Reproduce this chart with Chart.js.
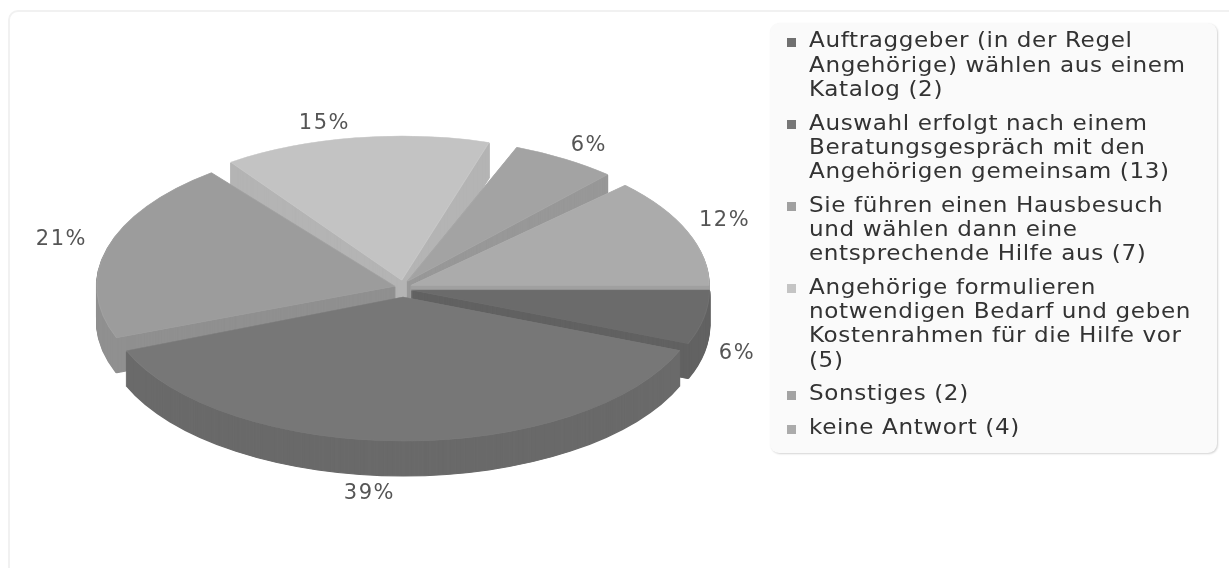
<!DOCTYPE html>
<html lang="de">
<head>
<meta charset="utf-8">
<title>Auswahl der Hilfe</title>
<script src="https://cdn.jsdelivr.net/npm/chart.js@4/dist/chart.umd.min.js"></script>
<style>
  html, body { margin: 0; width: 1229px; height: 568px; overflow: hidden; background: #fff; }
  #frame {
    position: absolute; left: 8px; top: 10px; width: 1290px; height: 640px;
    border: 2px solid #f1f1f1; border-radius: 10px; box-sizing: border-box;
  }
  #myChart { position: absolute; left: 0; top: 0; filter: blur(0.45px); }
  #legend {
    position: absolute; left: 770px; top: 23px; width: 447px; height: 430px;
    box-sizing: border-box; margin: 0; padding: 5.3px 0 0 39px; list-style: none;
    background: #fafafa; border-radius: 9px; box-shadow: 1px 1px 2px #d4d4d4;
    font: 21px "DejaVu Sans", sans-serif; line-height: 24.2px; letter-spacing: 0.55px; color: #333;
  }
  #legend li { position: relative; margin-bottom: 9.6px; }
  #legend span {
    display: block; white-space: pre; transform: scaleX(1.1); transform-origin: left top;
    filter: blur(0.35px);
  }
  #legend i { position: absolute; left: -22px; top: 9.5px; width: 9px; height: 9px; filter: blur(0.5px); }
</style>
</head>
<body>
<div id="frame"></div>
<canvas id="myChart" width="1229" height="568"></canvas>
<ul id="legend"></ul>
<script>
const categories = [
  'Auftraggeber (in der Regel\nAngehörige) wählen aus einem\nKatalog (2)',
  'Auswahl erfolgt nach einem\nBeratungsgespräch mit den\nAngehörigen gemeinsam (13)',
  'Sie führen einen Hausbesuch\nund wählen dann eine\nentsprechende Hilfe aus (7)',
  'Angehörige formulieren\nnotwendigen Bedarf und geben\nKostenrahmen für die Hilfe vor\n(5)',
  'Sonstiges (2)',
  'keine Antwort (4)'
];
const antworten = [2, 13, 7, 5, 2, 4];
const farben = ['#6b6b6b', '#777777', '#9c9c9c', '#c3c3c3', '#a3a3a3', '#ababab'];
const seiten = ['#626262', '#6a6a6a', '#909090', '#b4b4b4', '#989898', '#a0a0a0'];
const kanten = ['#717171', '#7d7d7d', '#a2a2a2', '#c8c8c8', '#a8a8a8', '#b0b0b0'];
const legendFarben = ['#707070', '#777777', '#a0a0a0', '#c4c4c4', '#a3a3a3', '#ababab'];

// Abstand der Prozentzahl vom Rand des Stuecks (px)
const labelVersatz = [[33, 36], [-19, 52.5], [-57, 7.5], [-64, -13], [8, -18.5], [37, -11.5]];
// Perspektive: Start- und Endwinkel werden beim Zeichnen leicht verschoben (Grad)
const perspektive = [[0, 0], [0, -5.6], [-4.6, -8], [-5, -7.5], [-3, -4.2], [-0.4, 0]];

// "3D" Darstellung
const mitte = { x: 403, y: 288.5 };
const radiusX = 298;
const radiusY = 144;
const explode = 8.5;
const tiefe = 35;
const reihenfolge = [3, 4, 5, 2, 0, 1]; // von hinten nach vorne

const gesamt = antworten.reduce((total, valor) => total + valor, 0);

function zeichneStueck(ctx, arc, i, dy, sx, sy, farbe, kante, rand) {
  const { startAngle, endAngle, circumference, options } = arc;
  arc.startAngle = startAngle + perspektive[i][0] * Math.PI / 180;
  arc.endAngle = endAngle + perspektive[i][1] * Math.PI / 180;
  arc.circumference = arc.endAngle - arc.startAngle;
  arc.options = Object.assign({}, options, { backgroundColor: farbe, borderColor: kante, borderWidth: rand });
  const winkel = (arc.startAngle + arc.endAngle) / 2;
  ctx.save();
  ctx.translate(mitte.x + Math.cos(winkel) * explode, mitte.y + Math.sin(winkel) * explode + dy);
  ctx.scale(sx, sy);
  ctx.translate(-arc.x, -arc.y);
  arc.draw(ctx);
  ctx.restore();
  arc.startAngle = startAngle;
  arc.endAngle = endAngle;
  arc.circumference = circumference;
  arc.options = options;
}

const pie3d = {
  id: 'pie3d',
  beforeDatasetsDraw(chart) {
    const ctx = chart.ctx;
    const arcs = chart.getDatasetMeta(0).data;
    const sx = radiusX / arcs[0].outerRadius;
    const sy = radiusY / arcs[0].outerRadius;
    reihenfolge.forEach(i => {
      for (let dy = tiefe; dy > 0; dy--) {
        zeichneStueck(ctx, arcs[i], i, dy, sx, sy, seiten[i], seiten[i], 2);
      }
      zeichneStueck(ctx, arcs[i], i, 0, sx, sy, farben[i], kanten[i], 1);
    });
    return false;
  },
  afterDraw(chart) {
    const ctx = chart.ctx;
    ctx.save();
    ctx.font = '21px "DejaVu Sans", sans-serif';
    ctx.letterSpacing = '1.5px';
    ctx.fillStyle = '#555555';
    ctx.textAlign = 'center';
    ctx.textBaseline = 'middle';
    chart.getDatasetMeta(0).data.forEach((arc, i) => {
      const winkel = (arc.startAngle + arc.endAngle) / 2;
      const x = mitte.x + Math.cos(winkel) * (explode + radiusX) + labelVersatz[i][0];
      const y = mitte.y + Math.sin(winkel) * explode + Math.sin(winkel) * radiusY + labelVersatz[i][1];
      ctx.fillText(Math.round(antworten[i] / gesamt * 100) + '%', x, y);
    });
    ctx.restore();
  }
};

new Chart(document.getElementById('myChart'), {
  type: 'pie',
  data: {
    labels: categories,
    datasets: [{
      data: antworten,
      backgroundColor: farben,
      borderWidth: 1
    }]
  },
  options: {
    responsive: false,
    animation: false,
    rotation: 90,
    plugins: {
      legend: { display: false },
      tooltip: { enabled: false }
    }
  },
  plugins: [pie3d]
});

const legend = document.getElementById('legend');
categories.forEach((text, i) => {
  const li = document.createElement('li');
  const box = document.createElement('i');
  const label = document.createElement('span');
  box.style.background = legendFarben[i];
  label.textContent = text;
  li.appendChild(box);
  li.appendChild(label);
  legend.appendChild(li);
});
</script>
</body>
</html>
